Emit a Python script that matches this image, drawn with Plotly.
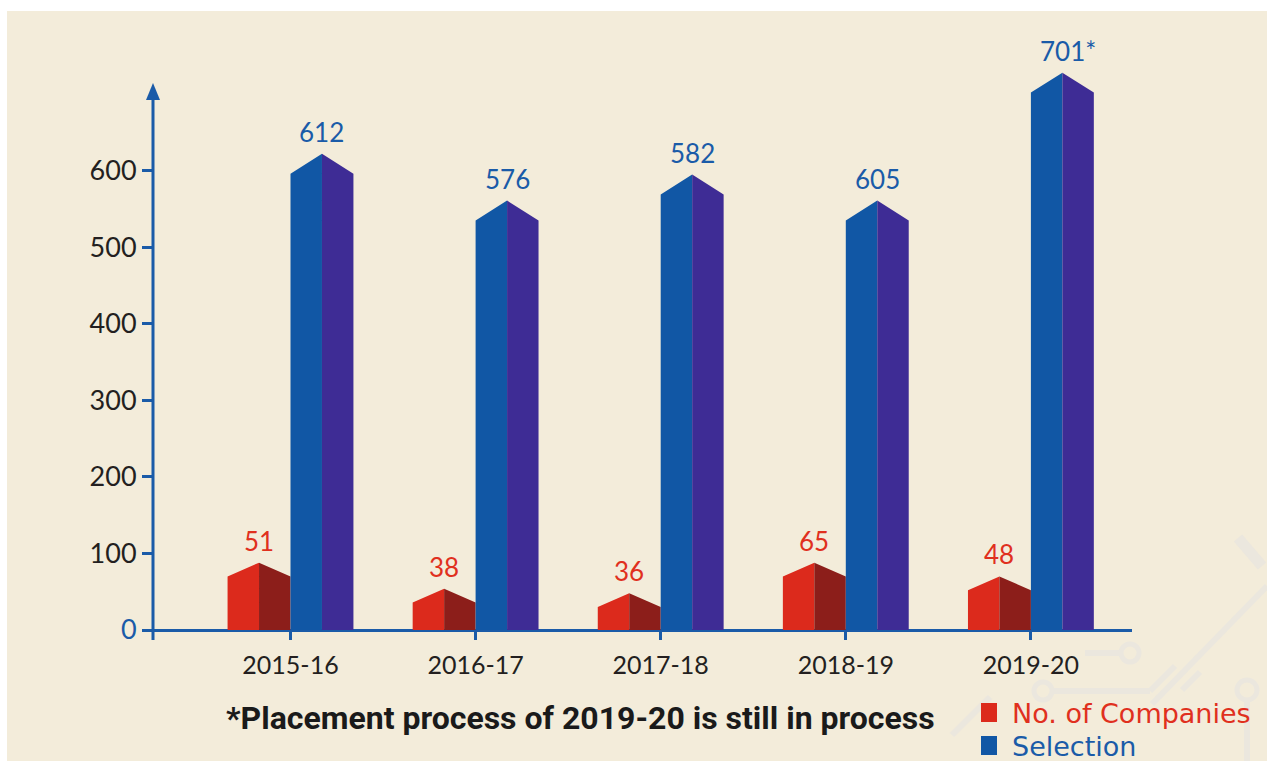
import plotly.graph_objects as go

# ---------------- data ----------------
years = ["2015-16", "2016-17", "2017-18", "2018-19", "2019-20"]
companies = [51, 38, 36, 65, 48]            # printed labels
selection = [612, 576, 582, 605, 701]       # printed labels
label_suffix = ["", "", "", "", "*"]
companies_height = [70, 36, 30, 70, 52]     # drawn shoulder heights
selection_height = [596, 535, 569, 535, 702]
y_ticks = [0, 100, 200, 300, 400, 500, 600]

# ---------------- styles ----------------
BG = "#f3ecda"
DECO = "#ebe7de"
AXIS = "#1a5ba8"
BLUE_L, BLUE_R = "#1157a5", "#3e2c95"
RED_L, RED_R = "#dc2a1c", "#8c1e1a"
RED_TXT, BLUE_TXT = "#e0301e", "#1a5ba8"
FONT = "Lato"
FACE_W = 0.17          # half-bar width in category units
BLUE_ROOF, RED_ROOF = 26, 18

# plot area geometry (pixels)
W, H = 1267, 761
ML, MR, MT, MB = 153, 135, 40, 121
PW, PH = W - ML - MR, H - MT - MB


def px_x(p):
    return (p - ML) / PW


def px_y(p):
    return (H - MB - p) / PH


def faces(offset, heights, roof):
    lx, ly, rx, ry = [], [], [], []
    for i, h in enumerate(heights):
        x0 = i + offset
        xm = x0 + FACE_W
        x1 = xm + FACE_W
        lx += [x0, x0, xm, xm, x0, None]
        ly += [0, h, h + roof, 0, 0, None]
        rx += [xm, xm, x1, x1, xm, None]
        ry += [0, h + roof, h, 0, 0, None]
    return lx, ly, rx, ry


fig = go.Figure()

for offset, heights, roof, cl, cr in [
    (-2 * FACE_W, companies_height, RED_ROOF, RED_L, RED_R),
    (0, selection_height, BLUE_ROOF, BLUE_L, BLUE_R),
]:
    lx, ly, rx, ry = faces(offset, heights, roof)
    for xs, ys, c in [(lx, ly, cl), (rx, ry, cr)]:
        fig.add_trace(go.Scatter(
            x=xs, y=ys, mode="lines", fill="toself", fillcolor=c,
            line=dict(width=0, color=c), hoverinfo="skip", showlegend=False))

# data labels
annotations = []
for i in range(len(years)):
    annotations.append(dict(
        x=i - FACE_W, y=companies_height[i] + RED_ROOF, xref="x", yref="y",
        text=str(companies[i]), showarrow=False, yanchor="bottom", yshift=4,
        font=dict(family=FONT, size=26, color=RED_TXT)))
    annotations.append(dict(
        x=i + FACE_W, y=selection_height[i] + BLUE_ROOF, xref="x", yref="y",
        text=f"{selection[i]}{label_suffix[i]}", showarrow=False, yanchor="bottom",
        yshift=4, xshift=6 if label_suffix[i] else 0,
        font=dict(family=FONT, size=26, color=BLUE_TXT)))

# footnote
annotations.append(dict(
    x=px_x(580), y=px_y(718), xref="paper", yref="paper",
    text="<b>*Placement process of 2019-20 is still in process</b>",
    showarrow=False, xanchor="center", yanchor="middle",
    font=dict(family="Roboto", size=32, color="#1a1a1a")))

shapes = []

# background panel with white frame
shapes.append(dict(type="rect", xref="paper", yref="paper",
                   x0=px_x(7), x1=px_x(W + 5), y0=px_y(H + 5), y1=px_y(11),
                   fillcolor=BG, line=dict(width=0), layer="below"))

# faint circuit decoration (bottom right)
deco_lines = [((1238, 538), (1262, 566), 11), ((1267, 586), (1152, 704), 6),
              ((1085, 653), (1121, 653), 6), ((1052, 691), (1150, 691), 6),
              ((1150, 691), (1175, 666), 6), ((1247, 700), (1247, 761), 6),
              ((952, 735), (990, 697), 6), ((1200, 672), (1182, 690), 6)]
for (xa, ya), (xb, yb), lw in deco_lines:
    shapes.append(dict(type="line", xref="paper", yref="paper",
                       x0=px_x(xa), y0=px_y(ya), x1=px_x(xb), y1=px_y(yb),
                       line=dict(color=DECO, width=lw), layer="below"))
for cx, cy, r in [(1130, 653, 9), (1043, 691, 9), (1247, 690, 10)]:
    shapes.append(dict(type="circle", xref="paper", yref="paper",
                       x0=px_x(cx - r), x1=px_x(cx + r), y0=px_y(cy + r), y1=px_y(cy - r),
                       line=dict(color=DECO, width=5), fillcolor=BG, layer="below"))

# legend
legend_items = [("No. of Companies", RED_L, RED_TXT, 713),
                ("Selection", BLUE_L, BLUE_TXT, 746)]
for name, sq, tc, cy in legend_items:
    shapes.append(dict(type="rect", xref="paper", yref="paper",
                       x0=px_x(981), x1=px_x(997), y0=px_y(cy - 10), y1=px_y(cy + 9),
                       fillcolor=sq, line=dict(width=0)))
    annotations.append(dict(
        x=px_x(1010), y=px_y(cy), xref="paper", yref="paper", text=name,
        showarrow=False, xanchor="left", yanchor="middle",
        font=dict(family="DejaVu Sans", size=27, color=tc)))

# y-axis line with arrow
shapes.append(dict(type="line", xref="paper", yref="paper",
                   x0=0, x1=0, y0=px_y(640), y1=px_y(99),
                   line=dict(color=AXIS, width=3)))
shapes.append(dict(type="path", xref="paper", yref="paper",
                   path=f"M {px_x(ML-7)},{px_y(100)} L {px_x(ML)},{px_y(83)} L {px_x(ML+7)},{px_y(100)} Z",
                   fillcolor=AXIS, line=dict(width=0)))

tick_text = [f'<span style="color:{AXIS}">{t}</span>' if t == 0 else str(t) for t in y_ticks]

x_lo = (ML - 290.5) / 185.1
x_hi = (W - MR - 290.5) / 185.1
y_lo = -(10) / 0.7655
y_hi = (630 - MT) / 0.7655

fig.update_layout(
    width=W, height=H,
    margin=dict(l=ML, r=MR, t=MT, b=MB, pad=0),
    paper_bgcolor="white", plot_bgcolor="rgba(0,0,0,0)",
    shapes=shapes, annotations=annotations, showlegend=False,
    xaxis=dict(range=[x_lo, x_hi], tickvals=list(range(len(years))), ticktext=years,
               ticks="inside", ticklen=10, tickwidth=2.5, tickcolor=AXIS,
               ticklabelstandoff=8,
               showgrid=False, zeroline=False, showline=False, fixedrange=True,
               tickfont=dict(family=FONT, size=25, color="#231f20")),
    yaxis=dict(range=[y_lo, y_hi], tickvals=y_ticks, ticktext=tick_text,
               ticks="outside", ticklen=10, tickwidth=2.5, tickcolor=AXIS,
               showgrid=False, zeroline=True, zerolinecolor=AXIS, zerolinewidth=3,
               showline=False, fixedrange=True,
               tickfont=dict(family=FONT, size=27, color="#231f20")),
)

fig.write_html(
    "out.html",
    config={"displayModeBar": False},
    post_script="document.body.style.margin='0';document.body.style.overflow='hidden';",
)
